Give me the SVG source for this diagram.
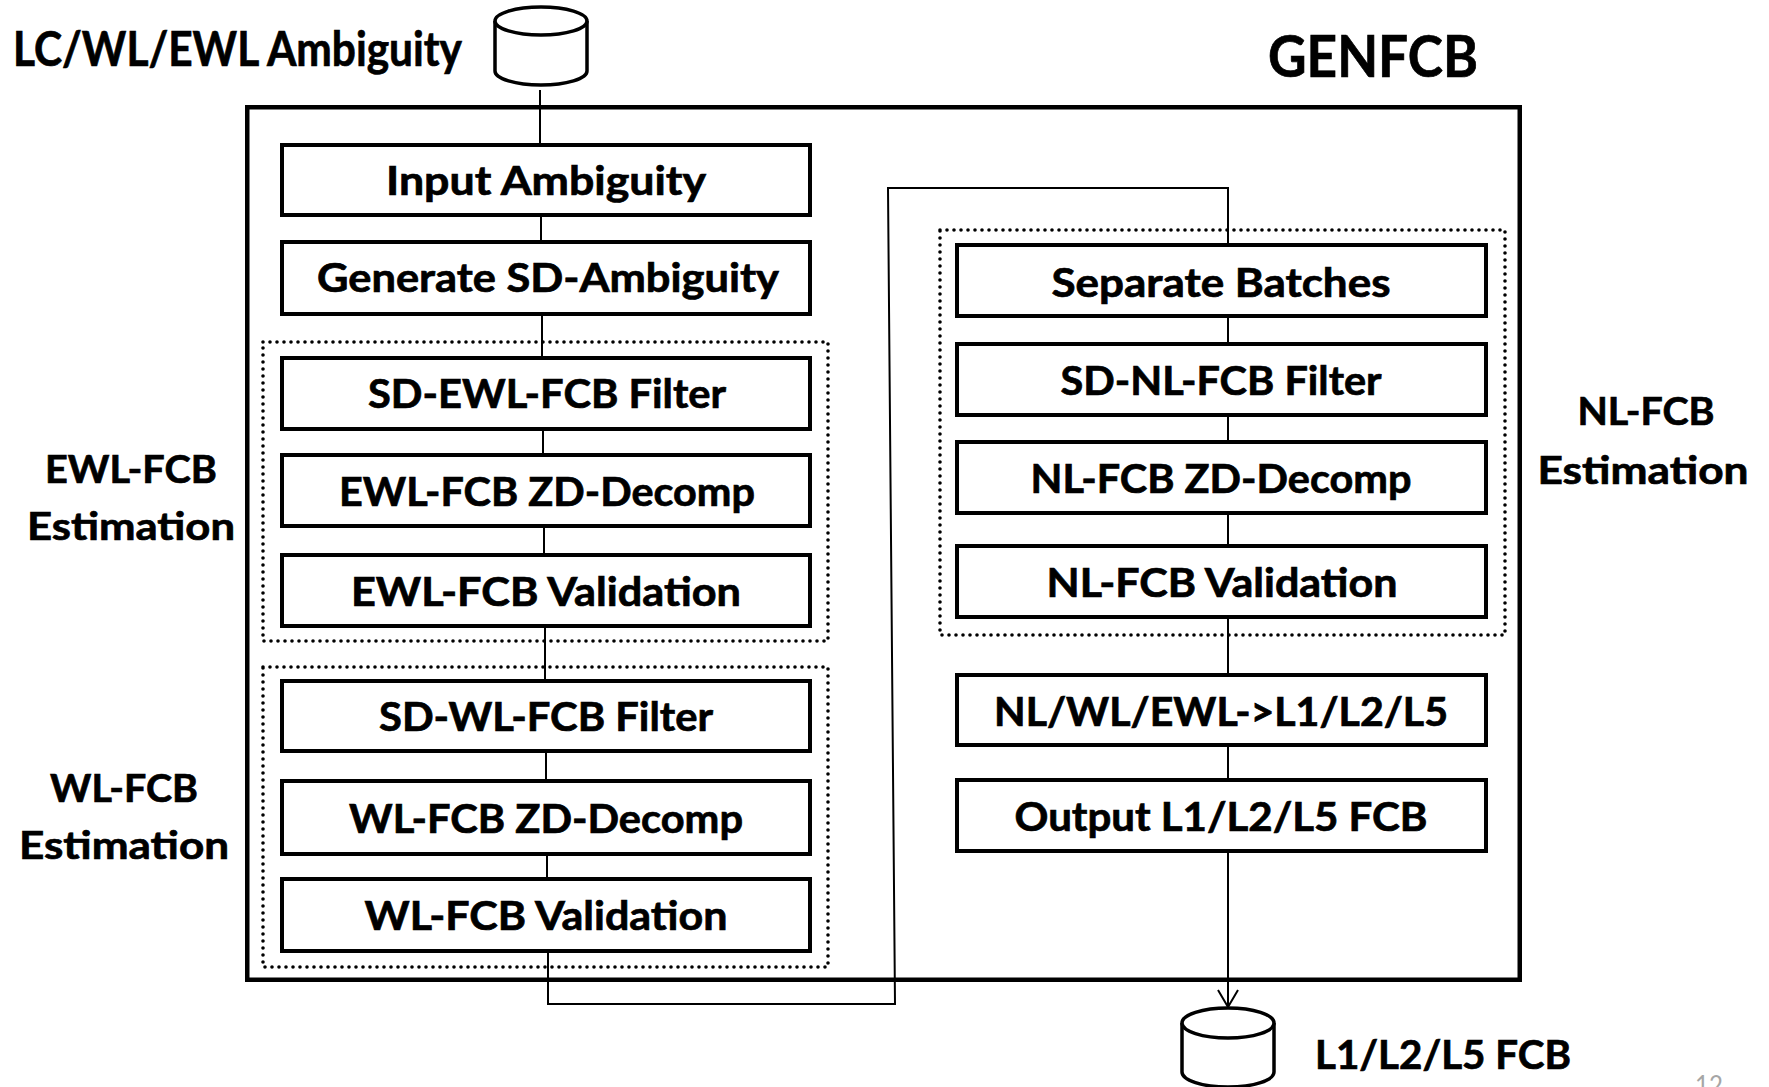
<svg xmlns="http://www.w3.org/2000/svg" width="1769" height="1087" viewBox="0 0 1769 1087">
<defs>
<style>
text{font-family:Lato,"Liberation Sans",sans-serif;font-weight:bold;fill:#000;stroke:#000;stroke-width:0.7;text-anchor:middle}
.box{fill:#fff;stroke:#000;stroke-width:4}
.dot{fill:none;stroke:#000;stroke-width:3.6;stroke-dasharray:0 7;stroke-linecap:round}
.frame{fill:none;stroke:#000;stroke-width:4.5}
.conn{fill:none;stroke:#000;stroke-width:2}
.cyl{fill:#fff;stroke:#000;stroke-width:3.5}
.bt{font-size:40px}
.lab{font-size:39px}
</style>
<marker id="arrowOpen" viewBox="0 0 17 20" refX="17" refY="10" markerUnits="userSpaceOnUse" markerWidth="17" markerHeight="20" orient="auto" overflow="visible">
<path d="M0,0 L17,10 L0,20" fill="none" stroke="#000" stroke-width="2"/>
</marker>
</defs>
<rect width="1769" height="1087" fill="#fff"/>

<g id="title"><text x="1373" y="77" style="font-size:57px" textLength="210" lengthAdjust="spacingAndGlyphs">GENFCB</text></g>

<g id="genfcb-frame"><rect class="frame" x="247.25" y="107.25" width="1272.5" height="872.5"/></g>

<g id="group-ewl"><rect class="dot" x="263" y="342" width="565" height="299"/></g>
<g id="group-wl"><rect class="dot" x="263" y="667" width="565" height="300"/></g>
<g id="group-nl"><rect class="dot" x="940" y="230" width="565" height="405"/></g>

<g id="connectors">
<line class="conn" x1="540" y1="90" x2="540" y2="143"/>
<line class="conn" x1="541" y1="217" x2="541" y2="240"/>
<line class="conn" x1="542" y1="316" x2="542" y2="356"/>
<line class="conn" x1="543" y1="431" x2="543" y2="453"/>
<line class="conn" x1="544" y1="528" x2="544" y2="553"/>
<line class="conn" x1="545" y1="628" x2="545" y2="679"/>
<line class="conn" x1="546" y1="753" x2="546" y2="779"/>
<line class="conn" x1="547" y1="856" x2="547" y2="877"/>
<polyline class="conn" points="548,953 548,1004 895,1004 888,188 1228,188 1228,243"/>
<line class="conn" x1="1228" y1="318" x2="1228" y2="342"/>
<line class="conn" x1="1228" y1="417" x2="1228" y2="440"/>
<line class="conn" x1="1228" y1="515" x2="1228" y2="544"/>
<line class="conn" x1="1228" y1="619" x2="1228" y2="673"/>
<line class="conn" x1="1228" y1="747" x2="1228" y2="778"/>
<line class="conn" x1="1228" y1="853" x2="1228" y2="1007" marker-end="url(#arrowOpen)"/>
</g>

<g id="db-input">
<path class="cyl" d="M495,21 L495,71 A46,14 0 0 0 587,71 L587,21"/>
<ellipse class="cyl" cx="541" cy="21" rx="46" ry="14"/>
<text x="13" y="66" style="font-size:48px;text-anchor:start" textLength="449" lengthAdjust="spacingAndGlyphs">LC/WL/EWL Ambiguity</text>
</g>

<g id="db-output">
<path class="cyl" d="M1182,1023 L1182,1072 A46,15 0 0 0 1274,1072 L1274,1023"/>
<ellipse class="cyl" cx="1228" cy="1023" rx="46" ry="15"/>
<text x="1315" y="1069" style="font-size:40px;text-anchor:start" textLength="256" lengthAdjust="spacingAndGlyphs">L1/L2/L5 FCB</text>
</g>

<g id="n-input"><rect class="box" x="282" y="145" width="528" height="70"/><text class="bt" x="546" y="195" textLength="320" lengthAdjust="spacingAndGlyphs">Input Ambiguity</text></g>
<g id="n-generate"><rect class="box" x="282" y="242" width="528" height="72"/><text class="bt" x="548" y="292" textLength="462" lengthAdjust="spacingAndGlyphs">Generate SD-Ambiguity</text></g>
<g id="n-sd-ewl"><rect class="box" x="282" y="358" width="528" height="71"/><text class="bt" x="547" y="408" textLength="358" lengthAdjust="spacingAndGlyphs">SD-EWL-FCB Filter</text></g>
<g id="n-ewl-zd"><rect class="box" x="282" y="455" width="528" height="71"/><text class="bt" x="547" y="506" textLength="416" lengthAdjust="spacingAndGlyphs">EWL-FCB ZD-Decomp</text></g>
<g id="n-ewl-val"><rect class="box" x="282" y="555" width="528" height="71"/><text class="bt" x="546" y="606" textLength="390" lengthAdjust="spacingAndGlyphs">EWL-FCB Validation</text></g>
<g id="n-sd-wl"><rect class="box" x="282" y="681" width="528" height="70"/><text class="bt" x="546" y="731" textLength="334" lengthAdjust="spacingAndGlyphs">SD-WL-FCB Filter</text></g>
<g id="n-wl-zd"><rect class="box" x="282" y="781" width="528" height="73"/><text class="bt" x="546" y="833" textLength="394" lengthAdjust="spacingAndGlyphs">WL-FCB ZD-Decomp</text></g>
<g id="n-wl-val"><rect class="box" x="282" y="879" width="528" height="72"/><text class="bt" x="546" y="930" textLength="363" lengthAdjust="spacingAndGlyphs">WL-FCB Validation</text></g>

<g id="n-separate"><rect class="box" x="957" y="245" width="529" height="71"/><text class="bt" x="1221" y="297" textLength="339" lengthAdjust="spacingAndGlyphs">Separate Batches</text></g>
<g id="n-sd-nl"><rect class="box" x="957" y="344" width="529" height="71"/><text class="bt" x="1221" y="395" textLength="321" lengthAdjust="spacingAndGlyphs">SD-NL-FCB Filter</text></g>
<g id="n-nl-zd"><rect class="box" x="957" y="442" width="529" height="71"/><text class="bt" x="1221" y="493" textLength="381" lengthAdjust="spacingAndGlyphs">NL-FCB ZD-Decomp</text></g>
<g id="n-nl-val"><rect class="box" x="957" y="546" width="529" height="71"/><text class="bt" x="1222" y="597" textLength="351" lengthAdjust="spacingAndGlyphs">NL-FCB Validation</text></g>
<g id="n-convert"><rect class="box" x="957" y="675" width="529" height="70"/><text class="bt" x="1221" y="726" textLength="454" lengthAdjust="spacingAndGlyphs">NL/WL/EWL-&gt;L1/L2/L5</text></g>
<g id="n-output"><rect class="box" x="957" y="780" width="529" height="71"/><text class="bt" x="1221" y="831" textLength="413" lengthAdjust="spacingAndGlyphs">Output L1/L2/L5 FCB</text></g>

<g id="label-ewl"><text class="lab" x="131" y="483" textLength="172" lengthAdjust="spacingAndGlyphs">EWL-FCB</text><text class="lab" x="131" y="540" textLength="208" lengthAdjust="spacingAndGlyphs">Estimation</text></g>
<g id="label-wl"><text class="lab" x="124" y="802" textLength="148" lengthAdjust="spacingAndGlyphs">WL-FCB</text><text class="lab" x="124" y="859" textLength="210" lengthAdjust="spacingAndGlyphs">Estimation</text></g>
<g id="label-nl"><text class="lab" x="1646" y="425" textLength="137" lengthAdjust="spacingAndGlyphs">NL-FCB</text><text class="lab" x="1643" y="484" textLength="211" lengthAdjust="spacingAndGlyphs">Estimation</text></g>

<g id="page-number"><text x="1709" y="1095" style="font-size:26px;font-weight:normal;fill:#a6a6a6;stroke:none" textLength="28" lengthAdjust="spacingAndGlyphs">12</text></g>
</svg>
